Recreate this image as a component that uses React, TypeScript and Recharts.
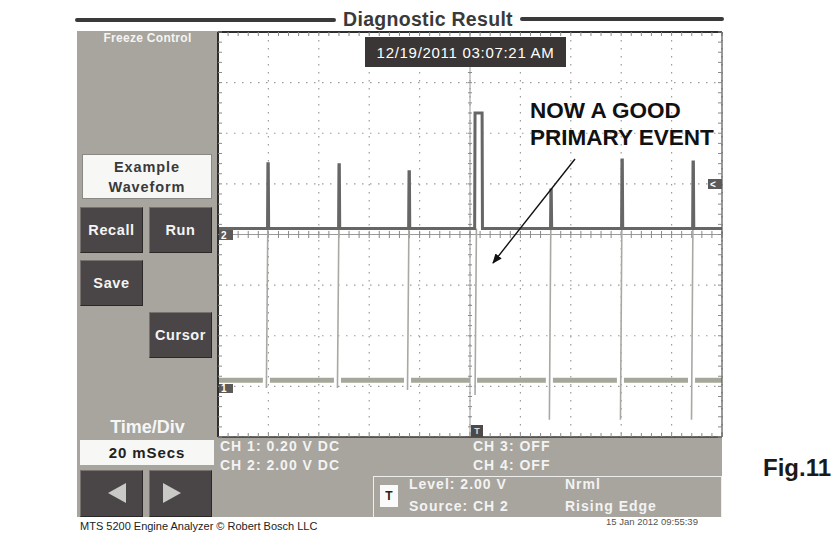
import React from 'react';
import { LineChart, Line, XAxis, YAxis, CartesianGrid, ReferenceLine } from 'recharts';

// ---- data (time in ms, 20 ms/div; amplitude in screen divisions, 0 = bottom, 8 = top)
const eventTimes = [19.8, 48.0, 75.8, 102.0, 132.1, 160.3, 188.5];
const ch2Peaks = [5.4, 5.38, 5.24, 6.4, 4.88, 5.47, 5.43];
const ch2PulseWidths = [0.15, 0.15, 0.15, 2.8, 0.15, 0.15, 0.15];
const ch2Lows = [0.97, 0.97, 0.93, 0.83, 0.34, 0.34, 0.34];
const ch2Base = 4.12;
const ch1Base = 1.12;
const majorTimeTicks = [0, 20, 40, 60, 80, 100, 120, 140, 160, 180, 200];
const majorDivTicks = [0, 1, 2, 3, 4, 5, 6, 7, 8];
const minorTimeTicks = Array.from({ length: 51 }, (_, i) => i * 4);
const minorDivTicks = Array.from({ length: 41 }, (_, i) => i * 0.2);

type Pt = { t: number; v: number | null };

const ch2Data: Pt[] = [{ t: 0, v: ch2Base }];
eventTimes.forEach((t, i) => {
  ch2Data.push({ t: t - 0.15, v: ch2Base });
  ch2Data.push({ t: t, v: ch2Peaks[i] });
  ch2Data.push({ t: t + ch2PulseWidths[i], v: ch2Peaks[i] });
  ch2Data.push({ t: t + ch2PulseWidths[i] + 0.15, v: ch2Base });
});
ch2Data.push({ t: 200, v: ch2Base });

const ch2DropData: Pt[] = [];
eventTimes.forEach((t, i) => {
  const x = i === 3 ? t + 0.6 : t;
  ch2DropData.push({ t: x - 0.6, v: ch2Lows[i] });
  ch2DropData.push({ t: x - 0.05, v: ch2Base });
  ch2DropData.push({ t: x, v: null });
});

const ch1Data: Pt[] = [{ t: 0, v: ch1Base }];
eventTimes.forEach((t) => {
  ch1Data.push({ t: t - 2.0, v: ch1Base });
  ch1Data.push({ t: t - 1.0, v: null });
  ch1Data.push({ t: t + 0.8, v: ch1Base });
});
ch1Data.push({ t: 200, v: ch1Base });

const FONT = '"Liberation Sans", Arial, sans-serif';
const PANEL = '#a7a59d';
const BTN = '#4a4547';

const abs = (l: number, t: number, w: number, h: number, extra: React.CSSProperties = {}): React.CSSProperties => ({
  position: 'absolute', left: l, top: t, width: w, height: h, ...extra,
});

const Btn = ({ l, t, w, h, label }: { l: number; t: number; w: number; h: number; label?: string }) => (
  <div style={abs(l, t, w, h, {
    background: BTN, borderTop: '1px solid #77716f', borderLeft: '1px solid #77716f',
    borderRight: '1px solid #2b2828', borderBottom: '1px solid #2b2828', boxSizing: 'border-box',
    color: '#f4f4f4', font: `bold 14.5px ${FONT}`, letterSpacing: 0.6, display: 'flex', alignItems: 'center', justifyContent: 'center',
  })}>{label}</div>
);

const Marker = ({ l, t, w, h, label }: { l: number; t: number; w: number; h: number; label: string }) => (
  <div style={abs(l, t, w, h, {
    background: '#5c5a58', color: '#fff', font: `bold 10px ${FONT}`, display: 'flex', alignItems: 'center',
    justifyContent: 'flex-start', paddingLeft: 2, boxSizing: 'border-box',
  })}>{label}</div>
);

const txt = (l: number, baseline: number, size: number, content: string, color: string, weight = 'bold', extra: React.CSSProperties = {}) => (
  <div style={{ position: 'absolute', left: l, top: baseline - size * 0.93, font: `${weight} ${size}px ${FONT}`, color, whiteSpace: 'nowrap', lineHeight: 1.1 + '', ...extra }}>{content}</div>
);

const LS = { letterSpacing: 1 };

export default function App() {
  return (
    <div style={{ position: 'absolute', left: 0, top: 0, width: 840, height: 549, background: '#fff', overflow: 'hidden', fontFamily: FONT }}>
      {/* title bar */}
      <div style={abs(75, 18, 261, 4, { background: '#3a3a3a', borderRadius: 2 })} />
      <div style={abs(520, 17, 204, 4, { background: '#3a3a3a', borderRadius: 2 })} />
      <div style={{ position: 'absolute', left: 328, width: 200, top: 8, textAlign: 'center', font: `bold 19.5px ${FONT}`, letterSpacing: 0.3, color: '#3a3a3a', lineHeight: '22px' }}>Diagnostic Result</div>

      {/* gray panels */}
      <div style={abs(77, 31, 141, 486, { background: PANEL })} />
      <div style={abs(77, 437, 645, 80, { background: PANEL })} />

      {/* plot */}
      <div style={abs(0, 0, 840, 549)}>
        <LineChart width={840} height={549} margin={{ top: 32, left: 218, right: 118, bottom: 112 }}>
          <CartesianGrid xAxisId="b" yAxisId="l" stroke="#9c9c9c" strokeWidth={1.2} strokeDasharray="1.5 6.5" horizontalValues={majorDivTicks} verticalValues={majorTimeTicks} />
          <XAxis xAxisId="b" type="number" dataKey="t" domain={[0, 200]} allowDataOverflow orientation="bottom" mirror
            ticks={minorTimeTicks} interval={0} tickSize={4} tickFormatter={() => ''} axisLine={{ stroke: '#3a3a3a', strokeWidth: 1.5 }} tickLine={{ stroke: '#8a8a8a' }} />
          <XAxis xAxisId="top" type="number" dataKey="t" domain={[0, 200]} allowDataOverflow orientation="top" mirror
            ticks={minorTimeTicks} interval={0} tickSize={4} tickFormatter={() => ''} axisLine={{ stroke: '#2e2e2e', strokeWidth: 2 }} tickLine={{ stroke: '#8a8a8a' }} />
          <YAxis yAxisId="l" type="number" domain={[0, 8]} allowDataOverflow orientation="left" mirror
            ticks={minorDivTicks} interval={0} tickSize={4} tickFormatter={() => ''} axisLine={{ stroke: '#2e2e2e', strokeWidth: 2 }} tickLine={{ stroke: '#8a8a8a' }} />
          <YAxis yAxisId="r" type="number" domain={[0, 8]} allowDataOverflow orientation="right" mirror
            ticks={minorDivTicks} interval={0} tickSize={4} tickFormatter={() => ''} axisLine={{ stroke: '#555', strokeWidth: 1.2 }} tickLine={{ stroke: '#8a8a8a' }} />

          <ReferenceLine xAxisId="b" yAxisId="l" x={100} stroke="#9a9a9a" strokeWidth={1} />
          <ReferenceLine xAxisId="b" yAxisId="l" y={4} stroke="#9a9a9a" strokeWidth={1} />
          {minorTimeTicks.map((t) => (
            <ReferenceLine key={'cx' + t} xAxisId="b" yAxisId="l" stroke="#8a8a8a" ifOverflow="visible"
              segment={[{ x: t, y: 3.93 }, { x: t, y: 4.07 }]} />
          ))}
          {minorDivTicks.map((d) => (
            <ReferenceLine key={'cy' + d} xAxisId="b" yAxisId="l" stroke="#8a8a8a" ifOverflow="visible"
              segment={[{ x: 99.2, y: d }, { x: 100.8, y: d }]} />
          ))}

          <Line xAxisId="b" yAxisId="l" data={ch1Data} dataKey="v" type="linear" stroke="#a6a79b" strokeWidth={5}
            dot={false} activeDot={false} isAnimationActive={false} connectNulls={false} />
          <Line xAxisId="b" yAxisId="l" data={ch2DropData} dataKey="v" type="linear" stroke="#a9a9a4" strokeWidth={1.6}
            dot={false} activeDot={false} isAnimationActive={false} connectNulls={false} />
          <Line xAxisId="b" yAxisId="l" data={ch2Data} dataKey="v" type="linear" stroke="#666666" strokeWidth={3}
            dot={false} activeDot={false} isAnimationActive={false} connectNulls={false} />
        </LineChart>
      </div>

      {/* channel / trigger markers */}
      <Marker l={219} t={230} w={14} h={10} label="2" />
      <Marker l={219} t={384} w={14} h={9} label="1" />
      <Marker l={708} t={179} w={14} h={10} label="<" />
      <div style={abs(471, 425, 12, 12, { background: '#4c4a48', color: '#ddd', font: `bold 9px ${FONT}`, textAlign: 'center', lineHeight: '12px' })}>T</div>

      {/* date box */}
      <div style={abs(365, 37, 201, 30, { background: '#3b3636', color: '#fff', font: `15px ${FONT}`, letterSpacing: 0.7, display: 'flex', alignItems: 'center', justifyContent: 'center' })}>12/19/2011 03:07:21 AM</div>

      {/* annotation */}
      {txt(530, 120, 22.5, 'NOW A GOOD', '#111')}
      {txt(530, 147, 22.5, 'PRIMARY EVENT', '#111')}
      <svg width={840} height={549} style={{ position: 'absolute', left: 0, top: 0, pointerEvents: 'none' }}>
        <defs>
          <marker id="ah" markerWidth="10" markerHeight="8" refX="9" refY="4" orient="auto" markerUnits="userSpaceOnUse">
            <path d="M0,0 L10,4 L0,8 Z" fill="#111" />
          </marker>
        </defs>
        <line x1={575} y1={159} x2={493} y2={263} stroke="#111" strokeWidth={1.4} markerEnd="url(#ah)" />
      </svg>

      {/* left panel content */}
      <div style={abs(77, 31, 141, 14, { color: '#f4f4f4', font: `bold 12px ${FONT}`, letterSpacing: 0.3, textAlign: 'center' })}>Freeze Control</div>
      <div style={abs(82, 154, 130, 45, { background: '#f7f7f5', border: '1px solid #8a8884', boxSizing: 'border-box', color: '#3a3a3a', font: `bold 14.5px ${FONT}`, letterSpacing: 0.9, textAlign: 'center', lineHeight: '20px', paddingTop: 2 })}>
        Example<br />Waveform
      </div>
      <Btn l={80} t={207} w={63} h={46} label="Recall" />
      <Btn l={149} t={207} w={63} h={46} label="Run" />
      <Btn l={80} t={260} w={63} h={46} label="Save" />
      <Btn l={149} t={312} w={63} h={46} label="Cursor" />
      <div style={abs(77, 417, 141, 22, { color: '#f6f6f6', font: `bold 18px ${FONT}`, textAlign: 'center' })}>Time/Div</div>
      <div style={abs(80, 440, 134, 25, { background: '#f7f7f5', color: '#222', font: `bold 15px ${FONT}`, letterSpacing: 0.9, display: 'flex', alignItems: 'center', justifyContent: 'center' })}>20 mSecs</div>
      <Btn l={80} t={470} w={63} h={47} />
      <Btn l={149} t={470} w={63} h={47} />
      <svg width={840} height={549} style={{ position: 'absolute', left: 0, top: 0, pointerEvents: 'none' }}>
        <path d="M108,493 L126,483 L126,503 Z" fill="#c9c9c6" />
        <path d="M181,493 L163,483 L163,503 Z" fill="#c9c9c6" />
      </svg>

      {/* channel info */}
      {txt(220, 452, 14, 'CH 1: 0.20 V DC', '#f3f3f3', 'bold', LS)}
      {txt(220, 471, 14, 'CH 2: 2.00 V DC', '#f3f3f3', 'bold', LS)}
      {txt(473, 452, 14, 'CH 3: OFF', '#f3f3f3', 'bold', LS)}
      {txt(473, 471, 14, 'CH 4: OFF', '#f3f3f3', 'bold', LS)}

      {/* trigger box */}
      <div style={abs(373, 476, 349, 41, { border: '1px solid #eeeeee', borderBottom: 'none', boxSizing: 'border-box' })} />
      <div style={abs(380, 485, 18, 22, { background: '#fafafa', color: '#222', font: `bold 12px ${FONT}`, display: 'flex', alignItems: 'center', justifyContent: 'center' })}>T</div>
      {txt(409, 490, 14, 'Level: 2.00 V', '#f3f3f3', 'bold', LS)}
      {txt(409, 512, 14, 'Source: CH 2', '#f3f3f3', 'bold', LS)}
      {txt(565, 490, 14, 'Nrml', '#f3f3f3', 'bold', LS)}
      {txt(565, 512, 14, 'Rising Edge', '#f3f3f3', 'bold', LS)}

      {/* footer */}
      {txt(80, 530, 11, 'MTS 5200 Engine Analyzer   \u00a9 Robert Bosch LLC', '#222', 'normal')}
      {txt(606, 526, 9.5, '15 Jan 2012 09:55:39', '#555', 'normal')}
      {txt(763, 477, 24, 'Fig.11', '#1a1a1a')}
    </div>
  );
}
